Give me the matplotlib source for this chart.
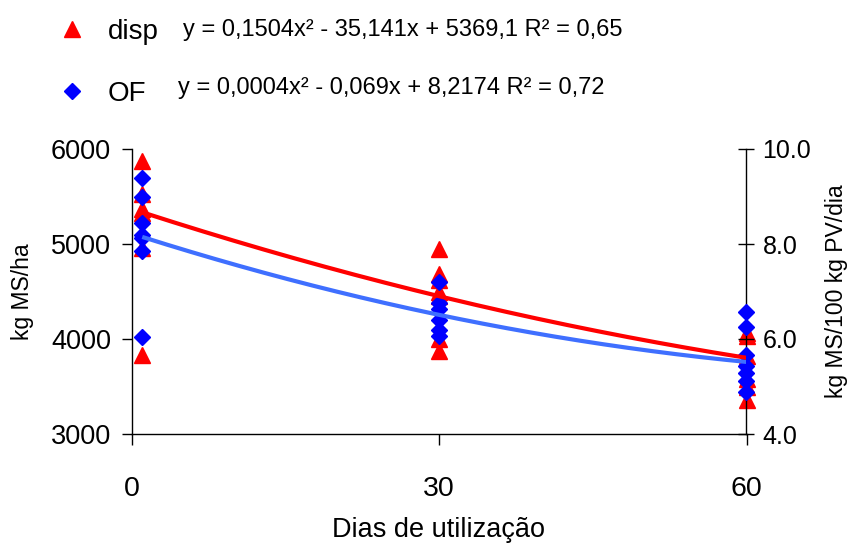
import numpy as np
import matplotlib
matplotlib.use("Agg")
import matplotlib.pyplot as plt
from matplotlib.lines import Line2D

plt.rcParams['font.family'] = ['Liberation Sans', 'DejaVu Sans']

# ---- data ----
disp_x = [1, 1, 1, 1, 1, 1,
          30, 30, 30, 30, 30, 30, 30,
          60, 60, 60, 60, 60, 60]
disp_y = [5870, 5530, 5370, 5330, 4960, 3830,
          4950, 4680, 4620, 4500, 4450, 4000, 3870,
          4060, 4030, 3820, 3580, 3500, 3360]

of_x = [1, 1, 1, 1, 1, 1, 1,
        30, 30, 30, 30, 30, 30,
        60, 60, 60, 60, 60, 60, 60]
of_y = [9.40, 8.98, 8.44, 8.20, 8.12, 7.86, 6.04,
        7.20, 6.76, 6.64, 6.40, 6.20, 6.06,
        6.56, 6.26, 5.66, 5.44, 5.28, 5.12, 4.88]

disp_coef = [0.1504, -35.141, 5369.1]
of_coef = [0.0004, -0.069, 8.2174]
trend_range = [1, 60]

x_ticks = [0, 30, 60]
left_ticks = [3000, 4000, 5000, 6000]
right_ticks = [4.0, 6.0, 8.0, 10.0]

disp_eq = "y = 0,1504x\u00b2 - 35,141x + 5369,1 R\u00b2 = 0,65"
of_eq = "y = 0,0004x\u00b2 - 0,069x + 8,2174 R\u00b2 = 0,72"

# ---- figure ----
W, H = 849, 545
fig = plt.figure(figsize=(W / 100, H / 100), dpi=100)
ax = fig.add_axes([132 / W, 1 - 434 / H, (746.5 - 132) / W, (434 - 149) / H])
ax2 = ax.twinx()

RED = '#FF0000'
BLUE = '#0000FF'
LBLUE = '#3F6FFF'

ax.plot(disp_x, disp_y, linestyle='none', marker='^', ms=12,
        color=RED, mec=RED, zorder=3, clip_on=False)
ax2.plot(of_x, of_y, linestyle='none', marker='D', ms=8,
         color=BLUE, mec=BLUE, zorder=3, clip_on=False)

xt = np.linspace(trend_range[0], trend_range[1], 200)
ax2.plot(xt, np.polyval(of_coef, xt), color=LBLUE, lw=3, zorder=4,
         solid_capstyle='butt')
ax2.plot(xt, np.polyval(disp_coef, xt), color=RED, lw=3, zorder=5,
         transform=ax.transData, solid_capstyle='butt')

ax.set_xlim(0, 60)
ax.set_ylim(3000, 6000)
ax2.set_ylim(4.0, 10.0)
ax.set_xticks(x_ticks)
ax.set_yticks(left_ticks)
ax2.set_yticks(right_ticks)
ax2.set_yticklabels([f"{v:.1f}" for v in right_ticks])

for a in (ax, ax2):
    a.spines['top'].set_visible(False)
    a.patch.set_visible(False)
ax2.spines['left'].set_visible(False)
ax2.spines['bottom'].set_visible(False)
ax2.spines['right'].set_visible(True)
ax.spines['right'].set_visible(False)
for s in ('left', 'bottom'):
    ax.spines[s].set_linewidth(1.0)
ax2.spines['right'].set_linewidth(1.0)

ax.tick_params(axis='x', direction='out', length=8, width=1, pad=22,
               labelsize=20.5)
ax.tick_params(axis='y', direction='out', length=7, width=1, pad=8,
               labelsize=19.5)
ax2.tick_params(axis='y', direction='inout', length=11, width=1, pad=6,
                labelsize=18)

ax.set_ylabel('kg MS/ha', fontsize=16.5, labelpad=12)
ax2.set_ylabel('kg MS/100 kg PV/dia', fontsize=16.5, labelpad=10)
fig.text(439 / W, 1 - 537 / H, 'Dias de utilização', ha='center',
         va='baseline', fontsize=19.5)

# ---- legend ----
handles = [Line2D([], [], linestyle='none', marker='^', ms=12, color=RED),
           Line2D([], [], linestyle='none', marker='D', ms=8, color=BLUE)]
fig.legend(handles, ['disp', 'OF'], loc='upper left',
           bbox_to_anchor=(41 / W, 1 - 5 / H), frameon=False,
           fontsize=20, labelspacing=1.3, handletextpad=0.7,
           handlelength=1.2, borderpad=0)
fig.text(183 / W, 1 - 30 / H, disp_eq, ha='left', va='center', fontsize=17)
fig.text(178 / W, 1 - 88 / H, of_eq, ha='left', va='center', fontsize=17)

fig.savefig('out.png', dpi=100)
